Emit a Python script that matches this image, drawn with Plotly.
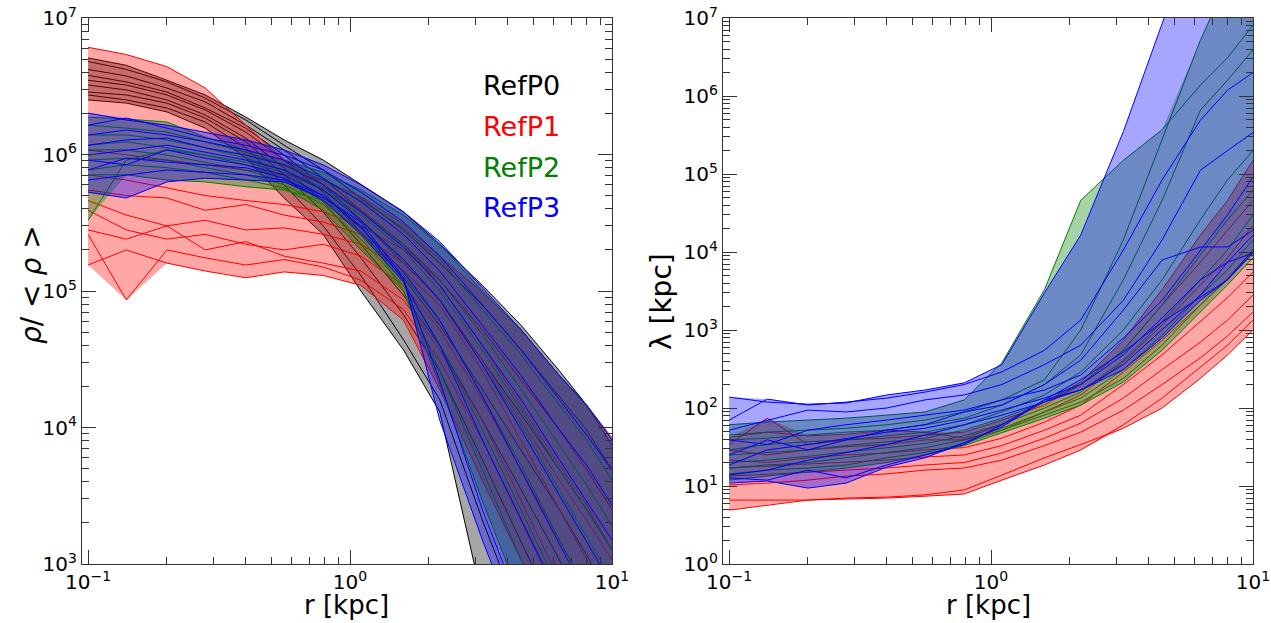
import numpy as np
import plotly.graph_objects as go

# radial grid (kpc)
r = [0.1, 0.14, 0.2, 0.28, 0.4, 0.56, 0.79, 1.1, 1.6, 2.2, 3.2, 4.5, 6.3, 8.0, 10.0]

# ---------- left panel: rho / <rho> ----------
rho_P0 = [
    [5.1e6, 4.5e6, 3.5e6, 2.73e6, 1.88e6, 1.28e6, 9.1e5, 6.0e5, 3.8e5, 2.2e5, 1.1e5, 5.6e4, 2.6e4, 1.46e4, 7.4e3],
    [4.8e6, 4.2e6, 3.4e6, 2.59e6, 1.79e6, 1.17e6, 7.7e5, 4.8e5, 2.8e5, 1.6e5, 7.9e4, 3.7e4, 1.7e4, 9.6e3, 4.9e3],
    [4.2e6, 3.76e6, 3.07e6, 2.43e6, 1.64e6, 1.08e6, 6.7e5, 3.9e5, 2.2e5, 1.2e5, 5.2e4, 2.2e4, 9.6e3, 4.9e3, 2.5e3],
    [3.8e6, 3.4e6, 2.87e6, 2.19e6, 1.56e6, 9.9e5, 6.0e5, 3.3e5, 1.6e5, 8.6e4, 3.1e4, 1.24e4, 4.9e3, 2.5e3, 1.27e3],
    [3.5e6, 3.23e6, 2.73e6, 2.12e6, 1.46e6, 9.1e5, 5.3e5, 2.7e5, 1.25e5, 5.6e4, 1.9e4, 6.8e3, 2.5e3, 1.16e3, 5.5e2],
    [3.23e6, 2.97e6, 2.51e6, 1.95e6, 1.32e6, 8.0e5, 4.5e5, 2.2e5, 9.3e4, 4.0e4, 1.13e4, 3.5e3, 1.07e3, 4.6e2, 2.0e2],
    [2.87e6, 2.73e6, 2.38e6, 1.85e6, 1.24e6, 7.1e5, 3.8e5, 1.75e5, 6.7e4, 2.6e4, 5.8e3, 1.5e3, 3.9e2, 1.4e2, 51],
    [2.73e6, 2.51e6, 2.19e6, 1.73e6, 1.12e6, 6.0e5, 3.0e5, 1.3e5, 4.4e4, 1.6e4, 2.1e3, 3.9e2, 1.0e2, 37, 13],
    [2.51e6, 2.38e6, 2.05e6, 1.56e6, 9.4e5, 4.8e5, 2.6e5, 1.0e5, 3.7e4, 1.3e4, 5.5e2, 1.0e2, 19, 6.8, 2.5],
]
rho_P1 = [
    [6.1e6, 5.4e6, 4.4e6, 3.07e6, 1.64e6, 9.1e5, 6.0e5, 3.9e5, 2.2e5, 1.1e5, 4.0e4, 1.46e4, 5.3e3, 2.7e3, 1.27e3],
    [1.08e6, 9.9e5, 9.1e5, 8.4e5, 7.7e5, 7.1e5, 6.5e5, 4.9e5, 3.1e5, 1.8e5, 9.8e4, 5.2e4, 2.4e4, 1.46e4, 8.4e3],
    [7.1e5, 6.5e5, 5.7e5, 5.0e5, 4.6e5, 4.3e5, 3.8e5, 3.0e5, 2.0e5, 1.2e5, 5.2e4, 2.2e4, 9.6e3, 4.9e3, 2.5e3],
    [5.5e5, 5.0e5, 4.8e5, 3.9e5, 4.3e5, 3.6e5, 3.2e5, 2.6e5, 1.6e5, 8.6e4, 3.1e4, 1.13e4, 4.1e3, 2.1e3, 1.07e3],
    [4.6e5, 3.6e5, 3.0e5, 3.3e5, 2.8e5, 2.9e5, 2.6e5, 2.2e5, 1.4e5, 7.9e4, 2.6e4, 8.1e3, 2.5e3, 1.07e3, 4.6e2],
    [3.9e5, 2.8e5, 2.4e5, 2.6e5, 2.2e5, 2.0e5, 2.2e5, 1.8e5, 1.1e5, 5.2e4, 1.6e4, 4.9e3, 1.5e3, 6.5e2, 2.8e2],
    [2.8e5, 2.4e5, 3.0e5, 2.0e5, 2.3e5, 1.8e5, 1.6e5, 1.4e5, 8.6e4, 3.7e4, 1.13e4, 2.9e3, 7.6e2, 3.3e2, 1.4e2],
    [1.55e5, 2.0e5, 1.6e5, 1.4e5, 1.25e5, 1.38e5, 1.3e5, 1.1e5, 6.1e4, 1.9e4, 4.1e3, 1.07e3, 3.3e2, 1.4e2, 61],
    [2.6e5, 8.6e4, 2.0e5, 1.75e5, 1.55e5, 1.7e5, 1.5e5, 1.2e5, 7.3e4, 3.1e4, 8.1e3, 2.1e3, 5.5e2, 2.3e2, 1.0e2],
]
rho_P2 = [
    [1.88e6, 1.82e6, 1.73e6, 1.34e6, 1.08e6, 9.1e5, 7.4e5, 5.5e5, 3.6e5, 2.2e5, 1.0e5, 5.2e4, 2.4e4, 1.46e4, 8.1e3],
    [1.64e6, 1.56e6, 1.46e6, 1.24e6, 1.04e6, 8.4e5, 6.5e5, 4.6e5, 2.9e5, 1.7e5, 7.3e4, 3.4e4, 1.46e4, 8.1e3, 4.1e3],
    [1.39e6, 1.39e6, 1.28e6, 1.12e6, 9.4e5, 7.7e5, 5.7e5, 3.8e5, 2.2e5, 1.2e5, 4.8e4, 1.9e4, 7.4e3, 3.8e3, 1.9e3],
    [1.17e6, 1.24e6, 1.12e6, 9.9e5, 8.4e5, 6.7e5, 5.0e5, 3.2e5, 1.7e5, 8.6e4, 2.9e4, 1.04e4, 3.5e3, 1.6e3, 7.6e2],
    [1.08e6, 1.08e6, 9.9e5, 8.8e5, 7.7e5, 6.3e5, 4.6e5, 2.7e5, 1.3e5, 6.1e4, 1.7e4, 5.3e3, 1.5e3, 6.5e2, 2.8e2],
    [9.1e5, 9.4e5, 9.1e5, 8.0e5, 7.1e5, 6.0e5, 4.3e5, 2.4e5, 1.1e5, 4.0e4, 9.6e3, 2.5e3, 6.5e2, 2.8e2, 1.2e2],
    [7.7e5, 8.4e5, 8.0e5, 7.4e5, 6.5e5, 5.7e5, 3.9e5, 2.0e5, 1.0e5, 2.6e4, 4.9e3, 1.07e3, 2.8e2, 1.2e2, 51],
    [7.1e5, 7.1e5, 6.5e5, 6.3e5, 5.8e5, 5.5e5, 4.6e5, 3.0e5, 1.0e5, 2.05e4, 2.9e3, 5.5e2, 1.4e2, 61, 26],
    [3.3e5, 9.1e5, 1.08e6, 9.9e5, 8.8e5, 7.4e5, 5.5e5, 3.6e5, 2.0e5, 1.0e5, 3.7e4, 1.34e4, 4.9e3, 2.5e3, 1.27e3],
]
rho_P3 = [
    [2.01e6, 1.79e6, 1.64e6, 1.46e6, 1.28e6, 1.08e6, 8.4e5, 6.0e5, 3.8e5, 2.3e5, 1.05e5, 5.2e4, 2.4e4, 1.46e4, 8.1e3],
    [1.64e6, 1.85e6, 1.56e6, 1.32e6, 1.17e6, 9.9e5, 7.7e5, 5.3e5, 3.2e5, 1.8e5, 7.9e4, 3.7e4, 1.6e4, 8.8e3, 4.9e3],
    [1.39e6, 1.51e6, 1.39e6, 1.24e6, 1.08e6, 9.1e5, 6.7e5, 4.5e5, 2.6e5, 1.4e5, 5.6e4, 2.4e4, 9.6e3, 5.3e3, 2.7e3],
    [1.17e6, 1.28e6, 1.32e6, 1.12e6, 9.9e5, 8.4e5, 6.0e5, 3.8e5, 2.1e5, 1.1e5, 4.0e4, 1.6e4, 5.8e3, 2.9e3, 1.5e3],
    [9.9e5, 1.08e6, 1.17e6, 1.04e6, 9.1e5, 7.7e5, 5.5e5, 3.3e5, 1.7e5, 8.6e4, 2.9e4, 9.6e3, 3.2e3, 1.5e3, 7.0e2],
    [9.1e5, 8.4e5, 1.08e6, 9.4e5, 8.4e5, 7.1e5, 5.0e5, 2.9e5, 1.38e5, 6.1e4, 1.7e4, 4.9e3, 1.4e3, 5.9e2, 2.55e2],
    [7.7e5, 9.4e5, 8.8e5, 8.4e5, 8.0e5, 6.7e5, 4.6e5, 2.6e5, 1.16e5, 4.0e4, 8.1e3, 2.1e3, 5.5e2, 2.3e2, 1.0e2],
    [6.5e5, 7.1e5, 7.7e5, 7.4e5, 7.1e5, 6.5e5, 5.0e5, 3.0e5, 1.2e5, 2.2e4, 2.5e3, 4.6e2, 1.2e2, 51, 22],
    [5.3e5, 4.8e5, 6.3e5, 6.7e5, 6.5e5, 6.3e5, 4.8e5, 3.2e5, 1.25e5, 1.13e4, 1.5e3, 2.8e2, 72, 31, 13],
]

# ---------- right panel: lambda [kpc] ----------
lam_P1 = [
    [42, 49, 44, 46, 52, 49, 41, 61, 119, 215, 740, 3300, 16500, 46000, 150000],
    [34, 74, 34, 39, 41, 45, 49, 70, 109, 200, 550, 2100, 7400, 19000, 46000],
    [29, 25, 29, 32, 34, 39, 39, 52, 89, 147, 390, 1160, 3800, 8400, 22000],
    [21.5, 20, 23, 25, 26.5, 29, 31, 41, 66, 109, 290, 740, 2100, 4600, 10600],
    [17, 18, 19, 20, 21.5, 23.5, 25, 33, 52, 81, 200, 480, 1270, 2600, 5500],
    [13.4, 14.3, 15, 16, 17, 18.6, 20, 26.5, 41, 64, 134, 310, 700, 1340, 2800],
    [10.3, 10.9, 11.9, 13.4, 14.3, 16, 17, 21.5, 33, 49, 94, 200, 440, 840, 1700],
    [4.9, 5.7, 6.6, 7.0, 7.2, 7.7, 8.9, 13.8, 23, 34, 55, 100, 240, 480, 1000],
    [6.6, 6.6, 6.6, 6.8, 7.0, 7.4, 7.9, 11.9, 18.6, 29, 61, 134, 330, 640, 1340],
]
lam_P2 = [
    [61, 66, 70, 74, 81, 89, 127, 380, 3300, 46000, 1.5e5, 3.7e5, 1.38e6, 3.1e6, 8.1e6],
    [45, 49, 52, 55, 61, 70, 89, 127, 230, 1000, 14300, 2.7e5, 5.2e6, 3.1e7, 1.0e8],
    [39, 41, 45, 49, 52, 61, 74, 109, 200, 480, 4400, 46000, 6.6e5, 1.6e6, 3.9e6],
    [29, 34, 37, 39, 44, 49, 61, 89, 147, 290, 1000, 4400, 26000, 84000, 2.0e5],
    [25, 27, 29, 33, 37, 41, 52, 74, 119, 200, 550, 2100, 9200, 26000, 62000],
    [20, 21.5, 24, 27, 31, 35, 44, 62, 100, 160, 410, 1270, 4400, 10600, 30000],
    [17, 18.6, 20, 23, 26.5, 31, 39, 55, 89, 134, 310, 860, 2800, 5900, 14300],
    [14.3, 16, 17, 18.6, 23, 27, 35, 52, 81, 119, 240, 640, 2100, 4400, 10000],
    [11.9, 13.4, 15, 17, 20, 25, 33, 48, 74, 109, 215, 550, 1700, 3800, 8400],
]
lam_P3 = [
    [138, 119, 112, 116, 147, 170, 210, 360, 3000, 16500, 3.5e5, 7.9e6, 1.8e8, 1.4e9, 1.5e10],
    [70, 130, 109, 119, 134, 160, 200, 290, 550, 1340, 10600, 84000, 4.9e5, 1.19e6, 2.0e6],
    [52, 70, 94, 89, 100, 127, 147, 200, 360, 640, 2400, 14300, 1.12e5, 2.0e5, 3.4e5],
    [39, 34, 52, 61, 70, 81, 94, 127, 170, 265, 790, 2400, 10600, 30000, 92000],
    [25, 39, 29, 39, 52, 61, 89, 109, 200, 410, 1800, 7900, 11600, 11600, 19000],
    [18.6, 29, 34, 41, 49, 55, 70, 94, 134, 200, 480, 1430, 4400, 7400, 9700],
    [13.8, 16, 21.5, 27, 34, 45, 61, 81, 119, 170, 360, 1000, 2800, 7400, 16500],
    [10.9, 11.6, 9.4, 10.9, 17.5, 23, 36, 57, 127, 170, 310, 790, 2400, 4400, 10600],
    [12.7, 11.9, 16, 12.7, 18.6, 25, 34, 61, 127, 230, 520, 1270, 2600, 4400, 9700],
]

groups = ["RefP0", "RefP1", "RefP2", "RefP3"]
line_colors = {"RefP0": "#000000", "RefP1": "#ff0000", "RefP2": "#008000", "RefP3": "#0000ff"}
fill_colors = {"RefP0": "rgba(0,0,0,0.35)", "RefP1": "rgba(255,0,0,0.35)",
               "RefP2": "rgba(0,128,0,0.35)", "RefP3": "rgba(0,0,255,0.35)"}

left_data = {"RefP0": rho_P0, "RefP1": rho_P1, "RefP2": rho_P2, "RefP3": rho_P3}
right_data = {"RefP1": lam_P1, "RefP2": lam_P2, "RefP3": lam_P3}

fig = go.Figure()


def add_panel(data, xa, ya):
    for g in groups:
        if g not in data:
            continue
        arr = np.array(data[g], dtype=float)
        hi = arr.max(axis=0)
        lo = arr.min(axis=0)
        fig.add_trace(go.Scatter(
            x=list(r) + list(r[::-1]), y=list(hi) + list(lo[::-1]),
            mode="lines", fill="toself", fillcolor=fill_colors[g],
            line=dict(width=0), xaxis=xa, yaxis=ya,
            hoverinfo="skip", showlegend=False))
        for prof in data[g]:
            fig.add_trace(go.Scatter(
                x=r, y=prof, mode="lines",
                line=dict(color=line_colors[g], width=1),
                xaxis=xa, yaxis=ya, showlegend=False, name=g))


add_panel(left_data, "x", "y")
add_panel(right_data, "x2", "y2")

FONT = "DejaVu Sans"
AXC = "#333333"


def sup(e):
    s = str(e).replace("-", "\u2212")
    return "10<sup>" + s + "</sup>"


def decade_ticks(lo, hi):
    major = [10.0 ** e for e in range(lo, hi + 1)]
    text = [sup(e) for e in range(lo, hi + 1)]
    minor = [k * 10.0 ** e for e in range(lo, hi) for k in range(2, 10)]
    return major, text, minor


def log_axis(rng, dom, anchor, lo, hi):
    major, text, minor = decade_ticks(lo, hi)
    return dict(
        type="log", range=rng, domain=dom, anchor=anchor,
        showline=True, linecolor=AXC, linewidth=1.2, mirror="allticks",
        ticks="inside", ticklen=14, tickwidth=1.2, tickcolor=AXC,
        tickmode="array", tickvals=major, ticktext=text,
        tickfont=dict(family=FONT, size=20, color="black"),
        minor=dict(tickmode="array", tickvals=minor, ticks="inside", ticklen=7,
                   tickwidth=1.2, tickcolor=AXC, showgrid=False),
        showgrid=False, zeroline=False, automargin=False,
    )


W, H = 1271, 623
xl = [82 / W, 612 / W]
xr = [723 / W, 1253 / W]
yd = [1 - 564 / H, 1 - 18 / H]
xrng = [np.log10(0.0948), 1.0]

fig.update_layout(
    width=W, height=H, margin=dict(l=0, r=0, t=0, b=0),
    paper_bgcolor="white", plot_bgcolor="white",
    xaxis=log_axis(xrng, xl, "y", -1, 1),
    yaxis=log_axis([3, 7], yd, "x", 3, 7),
    xaxis2=log_axis(xrng, xr, "y2", -1, 1),
    yaxis2=log_axis([0, 7], yd, "x2", 0, 7),
    showlegend=False,
    font=dict(family=FONT, color="black"),
)

ann = []
# axis titles
ann.append(dict(text="r [kpc]", x=346 / W, y=1 - 605 / H, xref="paper", yref="paper",
                showarrow=False, font=dict(family=FONT, size=26), xanchor="center", yanchor="middle"))
ann.append(dict(text="r [kpc]", x=988 / W, y=1 - 605 / H, xref="paper", yref="paper",
                showarrow=False, font=dict(family=FONT, size=26), xanchor="center", yanchor="middle"))
ann.append(dict(text="<i>ρ</i>/ &lt; <i>ρ</i> &gt;", x=31 / W, y=1 - 285 / H, xref="paper", yref="paper",
                showarrow=False, textangle=-90, font=dict(family=FONT, size=28),
                xanchor="center", yanchor="middle"))
ann.append(dict(text="λ [kpc]", x=662 / W, y=1 - 302 / H, xref="paper", yref="paper",
                showarrow=False, textangle=-90, font=dict(family=FONT, size=28),
                xanchor="center", yanchor="middle"))
# legend labels
for g, yy in zip(groups, [86, 126, 167, 207]):
    ann.append(dict(text=g, x=481 / W, y=1 - yy / H, xref="paper", yref="paper",
                    showarrow=False, font=dict(family=FONT, size=27, color=line_colors[g]),
                    xanchor="left", yanchor="middle"))
fig.update_layout(annotations=ann)

fig.write_html("out.html", config={"displayModeBar": False},
               post_script="document.body.style.margin='0';")
